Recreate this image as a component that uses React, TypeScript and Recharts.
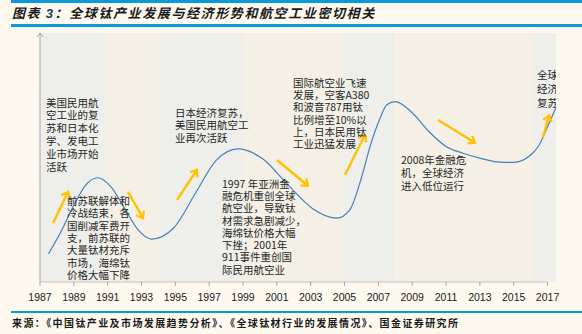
import React from "react";
import {
  LineChart,
  Line,
  XAxis,
  YAxis,
  ReferenceArea,
  ReferenceLine,
  ReferenceDot,
} from "recharts";

// curve (year, index level)
const years = [
  1987.5, 1988.2, 1989.0, 1989.7, 1990.4, 1991.2, 1992.0, 1992.8, 1993.6,
  1994.9, 1996.15, 1997.4, 1998.7, 2000.2, 2001.6, 2003.1, 2004.55, 2005.3,
  2006.0, 2006.5, 2007.1, 2007.5, 2008.0, 2009.0, 2010.0, 2011.0, 2012.0,
  2013.0, 2014.0, 2015.0, 2016.0, 2016.5, 2017.0, 2017.5,
];
const levels = [
  0.46, 0.8, 1.25, 1.58, 1.7, 1.55, 1.2, 0.85, 0.7,
  0.88, 1.43, 1.98, 2.17, 2.0, 1.6, 1.2, 1.04, 1.17,
  1.7, 2.2, 2.67, 2.89, 2.94, 2.76, 2.45, 2.21, 2.1,
  2.02, 1.96, 1.95, 2.07, 2.23, 2.53, 2.85,
];

const xTicks = [1987, 1989, 1991, 1993, 1995, 1997, 1999, 2001, 2003, 2005, 2007, 2009, 2011, 2013, 2015, 2017];
const yTicks = [0, 1, 2, 3];

// shaded periods
const bandFrom = [1987, 1990.85, 1994, 1999, 2004.9, 2008, 2016.2];
const bandTo = [1990.85, 1994, 1999, 2004.9, 2008, 2016.2, 2017.5];

// annotation texts, anchored at (year, level) of first line
const noteYears = [1987.35, 1988.6, 1994.98, 1997.76, 2001.95, 2008.34, 2016.38];
const noteLevels = [2.92, 1.32, 2.756, 1.598, 3.245, 1.989, 3.375];
const noteLines = [
  ["美国民用航", "空工业的复", "苏和日本化", "学、发电工", "业市场开始", "活跃"],
  ["前苏联解体和", "冷战结束，各", "国削减军费开", "支，前苏联的", "大量钛材充斥", "市场，海绵钛", "价格大幅下降"],
  ["日本经济复苏，", "美国民用航空工", "业再次活跃"],
  ["1997 年亚洲金", "融危机重创全球", "航空业，导致钛", "材需求急剧减少，", "海绵钛价格大幅", "下挫；2001年", "911事件重创国", "际民用航空业"],
  ["国际航空业飞速", "发展，空客A380", "和波音787用钛", "比例增至10%以", "上，日本民用钛", "工业迅猛发展"],
  ["2008年金融危", "机，全球经济", "进入低位运行"],
  ["全球", "经济", "复苏"],
];

// trend arrows: [fromYear, fromLevel, toYear, toLevel]
const arrows = [
  [1987.77, 0.96, 1988.66, 1.47],
  [1992.2, 1.47, 1993.09, 1.04],
  [1995.1, 1.34, 1996.28, 1.83],
  [2001.01, 1.99, 2002.84, 1.57],
  [2005.03, 1.75, 2006.21, 2.4],
  [2010.53, 2.64, 2012.71, 2.27],
  [2016.73, 2.36, 2017.09, 2.72],
];

const W = 582;
const H = 334;
const margin = { top: 33, right: 26, left: 39, bottom: 0 };
const plotLeft = margin.left + 1;
const plotRight = W - margin.right;
const plotBottom = 282;

const CJK = '"Noto Sans CJK SC", "Noto Sans", sans-serif';
const BG = "#fdf9ee";
const BLUE = "#0a9ad8";
const ORANGE = "#ffc000";

const data = years.map((year, i) => ({ year, level: levels[i] }));

function NoteText(props: any) {
  const { cx, cy, lines, lh, clip } = props;
  return (
    <text
      fontFamily={CJK}
      fontSize={10.5}
      fill="#262626"
      clipPath={clip ? "url(#plotClip)" : undefined}
    >
      {lines.map((l: string, i: number) => (
        <tspan key={i} x={cx} y={cy + i * lh + 3.7}>
          {l}
        </tspan>
      ))}
    </text>
  );
}

const noteLh = [12.8, 12.4, 12.6, 12.3, 12.3, 13, 14];

export default function App() {
  return (
    <div
      style={{
        position: "absolute",
        left: 0,
        top: 0,
        width: W,
        height: H,
        background: BG,
        overflow: "hidden",
      }}
    >
      <svg width={0} height={0} style={{ position: "absolute" }}>
        <defs>
          <marker
            id="orangeHead"
            markerUnits="userSpaceOnUse"
            viewBox="-8 -6 10 12"
            refX={0}
            refY={0}
            markerWidth={10}
            markerHeight={12}
            orient="auto"
          >
            <path d="M-6,-4.5 L0,0 L-6,4.5" fill="none" stroke={ORANGE} strokeWidth={2.2} />
          </marker>
          <marker
            id="grayHead"
            markerUnits="userSpaceOnUse"
            viewBox="-6 -5 8 10"
            refX={0}
            refY={0}
            markerWidth={8}
            markerHeight={10}
            orient="auto"
          >
            <path d="M-4,-3 L0,0 L-4,3" fill="none" stroke="#a6a6a6" strokeWidth={1} />
          </marker>
          <clipPath id="plotClip" clipPathUnits="userSpaceOnUse">
            <rect x={plotLeft} y={margin.top} width={plotRight - plotLeft} height={plotBottom - margin.top} />
          </clipPath>
        </defs>
      </svg>

      <div style={{ position: "absolute", left: 11, right: 0, top: 0, height: 2.5, background: BLUE }} />
      <div
        style={{
          position: "absolute",
          left: 12,
          top: 5,
          fontFamily: CJK,
          fontSize: 13,
          fontStyle: "italic",
          fontWeight: 700,
          letterSpacing: 1.6,
          color: "#1a1a1a",
          whiteSpace: "nowrap",
          lineHeight: "16px",
        }}
      >
        图表 <span style={{ color: "#1f3864", fontFamily: "Liberation Sans, sans-serif" }}>3</span>：全球钛产业发展与经济形势和航空工业密切相关
      </div>
      <div style={{ position: "absolute", left: 11, right: 0, top: 24, height: 2.5, background: BLUE }} />

      <div style={{ position: "absolute", left: 0, top: 0 }}>
        <LineChart width={W} height={H} data={data} margin={margin}>
          {bandFrom.map((x1, i) => (
            <ReferenceArea
              key={"b" + i}
              x1={x1}
              x2={bandTo[i]}
              fill={i % 2 === 0 ? "#eeefeb" : "#f4f0e5"}
              fillOpacity={1}
              stroke="none"
              ifOverflow="visible"
            />
          ))}
          <XAxis
            dataKey="year"
            type="number"
            domain={[1987, 2017.5]}
            ticks={xTicks}
            interval={0}
            axisLine={false}
            tickLine={{ stroke: "#a6a6a6" }}
            tickSize={4}
            tickMargin={8}
            height={52}
            tick={{ fill: "#1a1a1a", fontSize: 10.5, fontFamily: "Liberation Sans, sans-serif" }}
          />
          <YAxis
            type="number"
            domain={[0, 4.06]}
            ticks={yTicks}
            interval={0}
            width={1}
            axisLine={false}
            tick={false}
            tickLine={{ stroke: "#a6a6a6" }}
            tickSize={4}
          />
          <ReferenceLine
            segment={[{ x: 1987, y: 0 }, { x: 2017, y: 0 }]}
            ifOverflow="visible"
            shape={(p: any) => (
              <line x1={p.x1} y1={p.y1} x2={p.x2} y2={p.y2} stroke="#bfbfbf" strokeWidth={1} />
            )}
          />
          <ReferenceLine
            segment={[{ x: 1987, y: 0 }, { x: 1987, y: 4.06 }]}
            ifOverflow="visible"
            shape={(p: any) => (
              <line
                x1={p.x1}
                y1={p.y1}
                x2={p.x2}
                y2={p.y2}
                stroke="#a6a6a6"
                strokeWidth={1}
                markerEnd="url(#grayHead)"
              />
            )}
          />
          <Line
            type="monotone"
            dataKey="level"
            stroke="#4a7ebb"
            strokeWidth={1.2}
            dot={false}
            isAnimationActive={false}
          />
          {arrows.map((a, i) => (
            <ReferenceLine
              key={"a" + i}
              segment={[{ x: a[0], y: a[1] }, { x: a[2], y: a[3] }]}
              ifOverflow="visible"
              shape={(p: any) => (
                <line
                  x1={p.x1}
                  y1={p.y1}
                  x2={p.x2}
                  y2={p.y2}
                  stroke={ORANGE}
                  strokeWidth={2.4}
                  markerEnd="url(#orangeHead)"
                />
              )}
            />
          ))}
          {noteYears.map((yr, i) => (
            <ReferenceDot
              key={"n" + i}
              x={yr}
              y={noteLevels[i]}
              r={0}
              ifOverflow="visible"
              shape={(p: any) => (
                <NoteText
                  cx={p.cx}
                  cy={p.cy}
                  lines={noteLines[i]}
                  lh={noteLh[i]}
                  clip={i === noteLines.length - 1}
                />
              )}
            />
          ))}
        </LineChart>
      </div>

      <div style={{ position: "absolute", left: 11, right: 0, top: 311, height: 2, background: BLUE }} />
      <div
        style={{
          position: "absolute",
          left: 12,
          top: 316,
          fontFamily: CJK,
          fontSize: 10,
          fontWeight: 700,
          letterSpacing: 1.4,
          color: "#1a1a1a",
          whiteSpace: "nowrap",
          lineHeight: "14px",
        }}
      >
        来源：《中国钛产业及市场发展趋势分析》、《全球钛材行业的发展情况》、国金证券研究所
      </div>
    </div>
  );
}
